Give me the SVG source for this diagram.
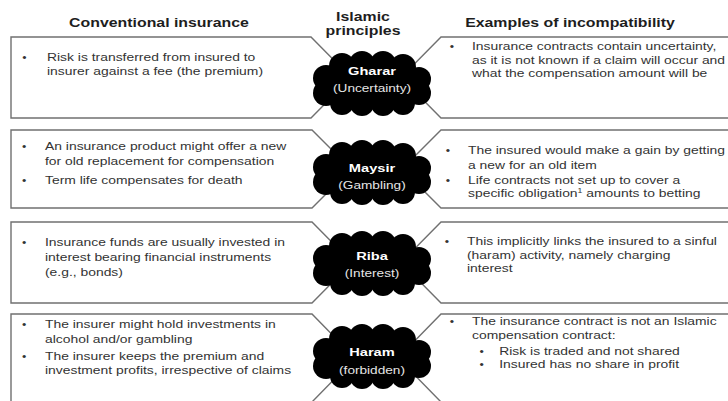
<svg xmlns="http://www.w3.org/2000/svg" xmlns:xlink="http://www.w3.org/1999/xlink" width="728" height="401" viewBox="0 0 728 401">
<style>
text{font-family:"Liberation Sans",Arial,sans-serif;}
.h{font-size:12.8px;font-weight:bold;fill:#1e1e1e;text-anchor:middle;}
.t{font-size:11.2px;fill:#333;}
.b{font-size:10px;fill:#333;}
.box{fill:#fff;stroke:#707070;stroke-width:1.4;}
.cl{fill:#000;}
.cn{font-size:11.8px;font-weight:bold;fill:#fff;text-anchor:middle;}
.cs{font-size:11px;fill:#e6e6e6;text-anchor:middle;}
</style>
<defs>
<g id="cloud" class="cl">
<ellipse cx="0" cy="0" rx="50" ry="25"/>
<circle cx="-46" cy="-6" r="13"/>
<circle cx="-46" cy="9" r="13"/>
<circle cx="-30" cy="-18" r="13"/>
<circle cx="-10" cy="-20" r="13"/>
<circle cx="11" cy="-20" r="13"/>
<circle cx="31" cy="-17" r="13"/>
<circle cx="47" cy="-5" r="12"/>
<circle cx="47" cy="9" r="12"/>
<circle cx="31" cy="19" r="12"/>
<circle cx="11" cy="20" r="12"/>
<circle cx="-10" cy="20" r="12"/>
<circle cx="-30" cy="19" r="12"/>
</g>
</defs>
<rect width="728" height="401" fill="#fff"/>
<g id="headers">
<g transform="translate(159,0) scale(1.24,1)"><text class="h" x="0" y="27">Conventional insurance</text></g>
<g transform="translate(363,0) scale(1.24,1)"><text class="h" x="0" y="21">Islamic</text><text class="h" x="0" y="35">principles</text></g>
<g transform="translate(570,0) scale(1.24,1)"><text class="h" x="0" y="27">Examples of incompatibility</text></g>
</g>
<g id="connectors"/>
<g id="conv-1">
<path class="box" d="M11,37 H311 L351,77.5 L311,118 H11 Z"/>
<g transform="translate(47,0) scale(1.24,1)">
<text class="b" x="-20" y="61">•</text>
<text class="t" x="0" y="61">Risk is transferred from insured to</text>
<text class="t" x="0" y="75">insurer against a fee (the premium)</text>
</g>
</g>
<g id="conv-2">
<path class="box" d="M11,130 H312 L351,169 L312,208 H11 Z"/>
<g transform="translate(45,0) scale(1.24,1)">
<text class="b" x="-18.5" y="150">•</text>
<text class="t" x="0" y="150">An insurance product might offer a new</text>
<text class="t" x="0" y="165">for old replacement for compensation</text>
<text class="b" x="-18.5" y="184">•</text>
<text class="t" x="0" y="184">Term life compensates for death</text>
</g>
</g>
<g id="conv-3">
<path class="box" d="M11,222 H312 L352,262.5 L312,303 H11 Z"/>
<g transform="translate(45,0) scale(1.24,1)">
<text class="b" x="-18.5" y="246">•</text>
<text class="t" x="0" y="246">Insurance funds are usually invested in</text>
<text class="t" x="0" y="261">interest bearing financial instruments</text>
<text class="t" x="0" y="276">(e.g., bonds)</text>
</g>
</g>
<g id="conv-4">
<path class="box" d="M11,314 H312 L355,358 L312,402 H11 Z"/>
<g transform="translate(45,0) scale(1.24,1)">
<text class="b" x="-18.5" y="328">•</text>
<text class="t" x="0" y="328">The insurer might hold investments in</text>
<text class="t" x="0" y="343">alcohol and/or gambling</text>
<text class="b" x="-18.5" y="360">•</text>
<text class="t" x="0" y="360">The insurer keeps the premium and</text>
<text class="t" x="0" y="374">investment profits, irrespective of claims</text>
</g>
</g>
<g id="incomp-1">
<path class="box" d="M732,37 H441 L401,77.5 L441,118 H732 Z"/>
<g transform="translate(472,0) scale(1.24,1)">
<text class="b" x="-18" y="50">•</text>
<text class="t" x="0" y="50">Insurance contracts contain uncertainty,</text>
<text class="t" x="0" y="64">as it is not known if a claim will occur and</text>
<text class="t" x="0" y="77">what the compensation amount will be</text>
</g>
</g>
<g id="incomp-2">
<path class="box" d="M732,130 H441 L402,169 L441,208 H732 Z"/>
<g transform="translate(468,0) scale(1.24,1)">
<text class="b" x="-18" y="154">•</text>
<text class="t" x="0" y="154">The insured would make a gain by getting</text>
<text class="t" x="0" y="169">a new for an old item</text>
<text class="b" x="-18" y="184">•</text>
<text class="t" x="0" y="184">Life contracts not set up to cover a</text>
<text class="t" x="0" y="197">specific obligation<tspan font-size="7" dy="-4">1</tspan><tspan dy="4"> amounts to betting</tspan></text>
</g>
</g>
<g id="incomp-3">
<path class="box" d="M732,222 H441 L401,262.5 L441,303 H732 Z"/>
<g transform="translate(467,0) scale(1.24,1)">
<text class="b" x="-18" y="245">•</text>
<text class="t" x="0" y="245">This implicitly links the insured to a sinful</text>
<text class="t" x="0" y="259">(haram) activity, namely charging</text>
<text class="t" x="0" y="272">interest</text>
</g>
</g>
<g id="incomp-4">
<path class="box" d="M732,314 H441 L398,358 L441,402 H732 Z"/>
<g transform="translate(472,0) scale(1.24,1)">
<text class="b" x="-18" y="325">•</text>
<text class="t" x="0" y="325">The insurance contract is not an Islamic</text>
<text class="t" x="0" y="339">compensation contract:</text>
<text class="b" x="6" y="355">•</text>
<text class="t" x="22" y="355">Risk is traded and not shared</text>
<text class="b" x="6" y="368">•</text>
<text class="t" x="22" y="368">Insured has no share in profit</text>
</g>
</g>
<g id="gharar">
<use xlink:href="#cloud" href="#cloud" transform="translate(372,84)"/>
<g transform="translate(372,0) scale(1.24,1)">
<text class="cn" x="0" y="75">Gharar</text>
<text class="cs" x="0" y="92">(Uncertainty)</text>
</g>
</g>
<g id="maysir">
<use xlink:href="#cloud" href="#cloud" transform="translate(372,173)"/>
<g transform="translate(372,0) scale(1.24,1)">
<text class="cn" x="0" y="172">Maysir</text>
<text class="cs" x="0" y="189">(Gambling)</text>
</g>
</g>
<g id="riba">
<use xlink:href="#cloud" href="#cloud" transform="translate(372,264)"/>
<g transform="translate(372,0) scale(1.24,1)">
<text class="cn" x="0" y="260">Riba</text>
<text class="cs" x="0" y="277">(Interest)</text>
</g>
</g>
<g id="haram">
<use xlink:href="#cloud" href="#cloud" transform="translate(372,357)"/>
<g transform="translate(372,0) scale(1.24,1)">
<text class="cn" x="0" y="356">Haram</text>
<text class="cs" x="0" y="374">(forbidden)</text>
</g>
</g>
</svg>
